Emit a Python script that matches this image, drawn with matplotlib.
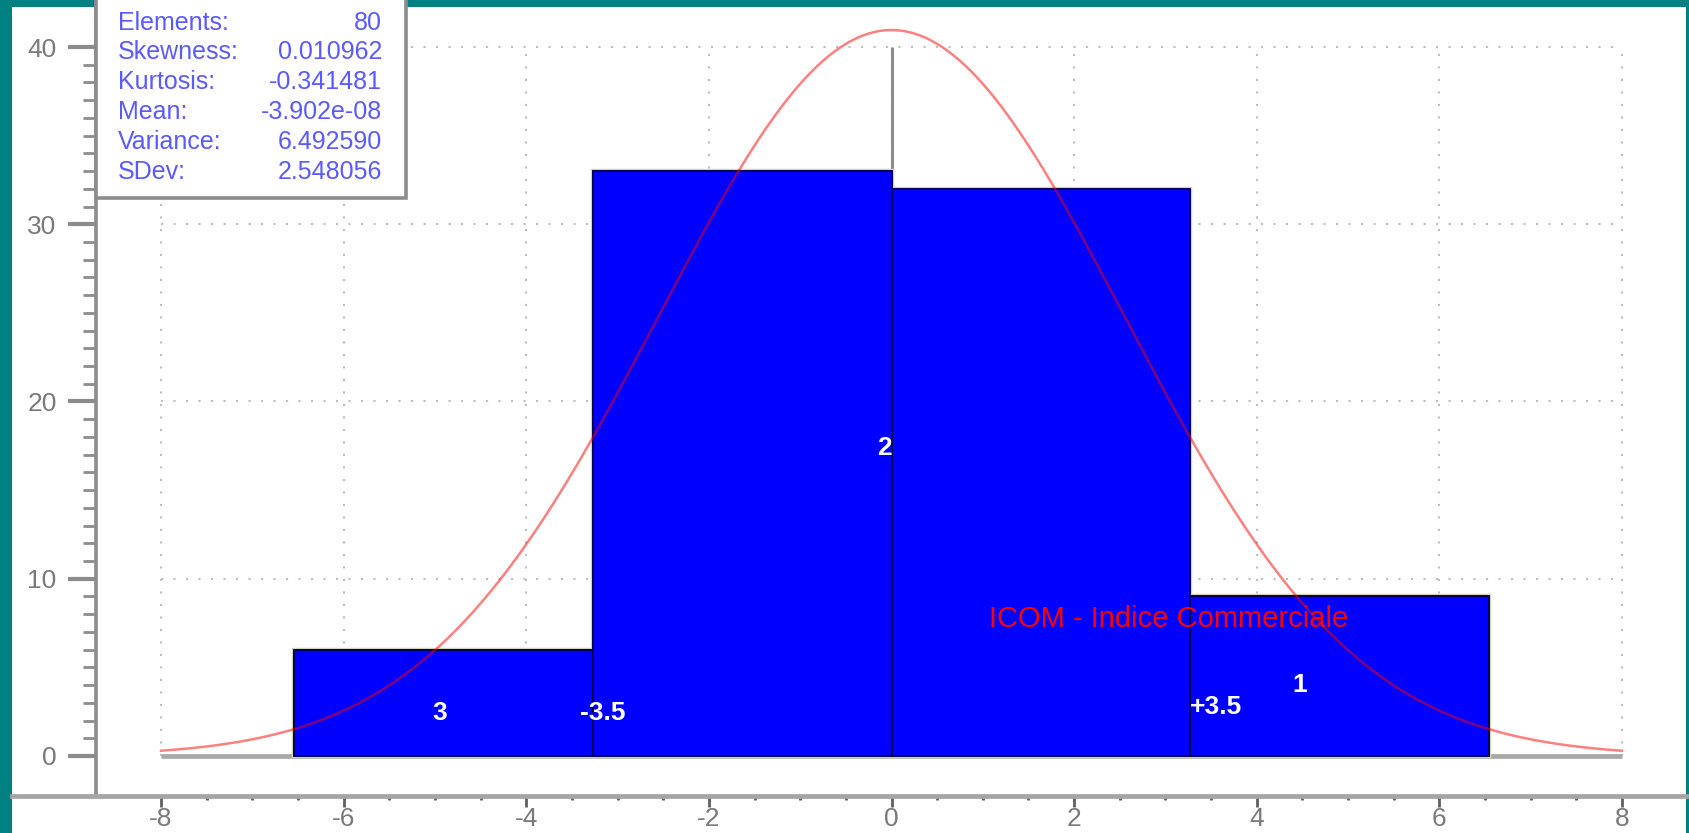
import numpy as np
import matplotlib
matplotlib.use("Agg")
import matplotlib.pyplot as plt
from matplotlib.patches import Rectangle
from matplotlib.ticker import FixedLocator

plt.rcParams['font.family'] = ['Liberation Sans', 'DejaVu Sans']
plt.rcParams['axes.unicode_minus'] = False

# Histogram classes (bin edges and counts)
bin_edges = [-6.54, -3.27, 0.0, 3.27, 6.54]
counts = [6, 33, 32, 9]

# Class labels written inside the bars, and the boundary marks
class_labels = ['3', '2', '1']
class_label_x = [-4.95, -0.08, 4.47]
class_label_y = [2.45, 17.4, 4.0]
bound_labels = ['-3.5', '+3.5']
bound_label_x = [-3.16, 3.55]
bound_label_y = [2.4, 2.75]

# Summary statistics shown in the info box
stat_names = ['Elements:', 'Skewness:', 'Kurtosis:', 'Mean:', 'Variance:', 'SDev:']
stat_values = ['80', '0.010962', '-0.341481', '-3.902e-08', '6.492590', '2.548056']
n_elements = 80
mean = -3.902e-08
sdev = 2.548056

# Axis ticks
x_ticks = [-8, -6, -4, -2, 0, 2, 4, 6, 8]
x_tick_labels = ['-8', '-6', '-4', '-2', '0', '2', '4', '6', '8']
y_ticks = [0, 10, 20, 30, 40]
y_tick_labels = ['0', '10', '20', '30', '40']

title = 'ICOM - Indice Commerciale'

W, H = 1690, 833
fig = plt.figure(figsize=(W / 100, H / 100), dpi=100, facecolor='#008080')


def fx(px):
    return px / W


def fy(py):
    return 1 - py / H


# white panel inside the teal frame
fig.patches.append(Rectangle((fx(12), 0), fx(1686) - fx(12), fy(7),
                             transform=fig.transFigure, facecolor='white',
                             edgecolor='none', zorder=-10))

ax = fig.add_axes([fx(12), fy(796), fx(1686) - fx(12), fy(7) - fy(796)])
ax.set_facecolor('none')
ax.set_xlim(-9.632, 8.701)
ax.set_ylim(-2.257, 42.257)

for s in ('top', 'right'):
    ax.spines[s].set_visible(False)
ax.spines['left'].set_position(('data', -8.71))
ax.spines['left'].set_color('#8c8c8c')
ax.spines['left'].set_linewidth(2.6)
ax.spines['bottom'].set_color('#a5a5a5')
ax.spines['bottom'].set_linewidth(3.4)

# dotted grid over the plotting rectangle
for gx in x_ticks:
    ax.plot([gx, gx], [0, 40], color='#bdbdbd', lw=1.5,
            linestyle=(0, (1, 5)), zorder=1)
for gy in y_ticks[1:]:
    ax.plot([-8, 8], [gy, gy], color='#bdbdbd', lw=1.5,
            linestyle=(0, (1, 5)), zorder=1)

# mean marker and baseline
ax.plot([0, 0], [0, 40], color='#8c8c8c', lw=2.2, zorder=2,
        solid_capstyle='butt')
ax.plot([-8, 8], [0, 0], color='#a8a8a8', lw=3.4, zorder=2,
        solid_capstyle='butt')

# histogram bars
lefts = bin_edges[:-1]
widths = np.diff(bin_edges)
ax.bar(lefts, counts, width=widths, align='edge', facecolor='#0000ff',
       edgecolor='#d6d2c0', linewidth=3.2, zorder=3)
ax.bar(lefts, counts, width=widths, align='edge', facecolor='#0000ff',
       edgecolor='#00004a', linewidth=1.4, zorder=4)

# fitted normal curve scaled to the histogram
bin_w = widths[0]
xs = np.linspace(-8, 8, 500)
ys = n_elements * bin_w * np.exp(-0.5 * ((xs - mean) / sdev) ** 2) / (sdev * np.sqrt(2 * np.pi))
ax.plot(xs, ys, color='#ff0000', alpha=0.5, lw=1.8, zorder=5)

# labels inside the bars
for lab, lx, ly in zip(class_labels, class_label_x, class_label_y):
    ax.text(lx, ly, lab, color='white', fontsize=19, fontweight='bold',
            ha='center', va='center', zorder=7)
for lab, lx, ly in zip(bound_labels, bound_label_x, bound_label_y):
    ax.text(lx, ly, lab, color='white', fontsize=19, fontweight='bold',
            ha='center', va='center', zorder=7)
ax.text(3.04, 7.73, title, color='#ff0000', fontsize=21,
        ha='center', va='center', zorder=7)

# ticks
ax.set_xticks(x_ticks, x_tick_labels)
ax.xaxis.set_minor_locator(FixedLocator(np.arange(-8, 8.01, 0.5)))
ax.set_yticks(y_ticks, y_tick_labels)
ax.yaxis.set_minor_locator(FixedLocator(np.arange(0, 41, 1)))
ax.tick_params(axis='y', which='major', length=20, width=3, color='#8c8c8c',
               pad=8.5, labelsize=19, labelcolor='#7a7a7a')
ax.tick_params(axis='y', which='minor', length=9.5, width=2, color='#8c8c8c')
ax.tick_params(axis='x', which='major', length=8, width=2, color='#606060',
               pad=0, labelsize=19, labelcolor='#7a7a7a')
ax.tick_params(axis='x', which='minor', length=3, width=2, color='#606060')

# statistics box in the upper-left corner
box = Rectangle((fx(96), fy(198)), fx(406) - fx(96), fy(-10) - fy(198),
                transform=fig.transFigure, facecolor='white',
                edgecolor='#8c8c8c', linewidth=2.6, zorder=8, clip_on=False)
ax.add_patch(box)
row_y = [23, 52, 82, 112, 142, 172]
for name, val, ry in zip(stat_names, stat_values, row_y):
    ax.text(fx(118), fy(ry), name, transform=fig.transFigure, color='#5a5aff',
            fontsize=18, ha='left', va='center', zorder=9)
    ax.text(fx(382), fy(ry), val, transform=fig.transFigure, color='#5a5aff',
            fontsize=18, ha='right', va='center', zorder=9)

fig.savefig('out.png', dpi=100, facecolor=fig.get_facecolor())
